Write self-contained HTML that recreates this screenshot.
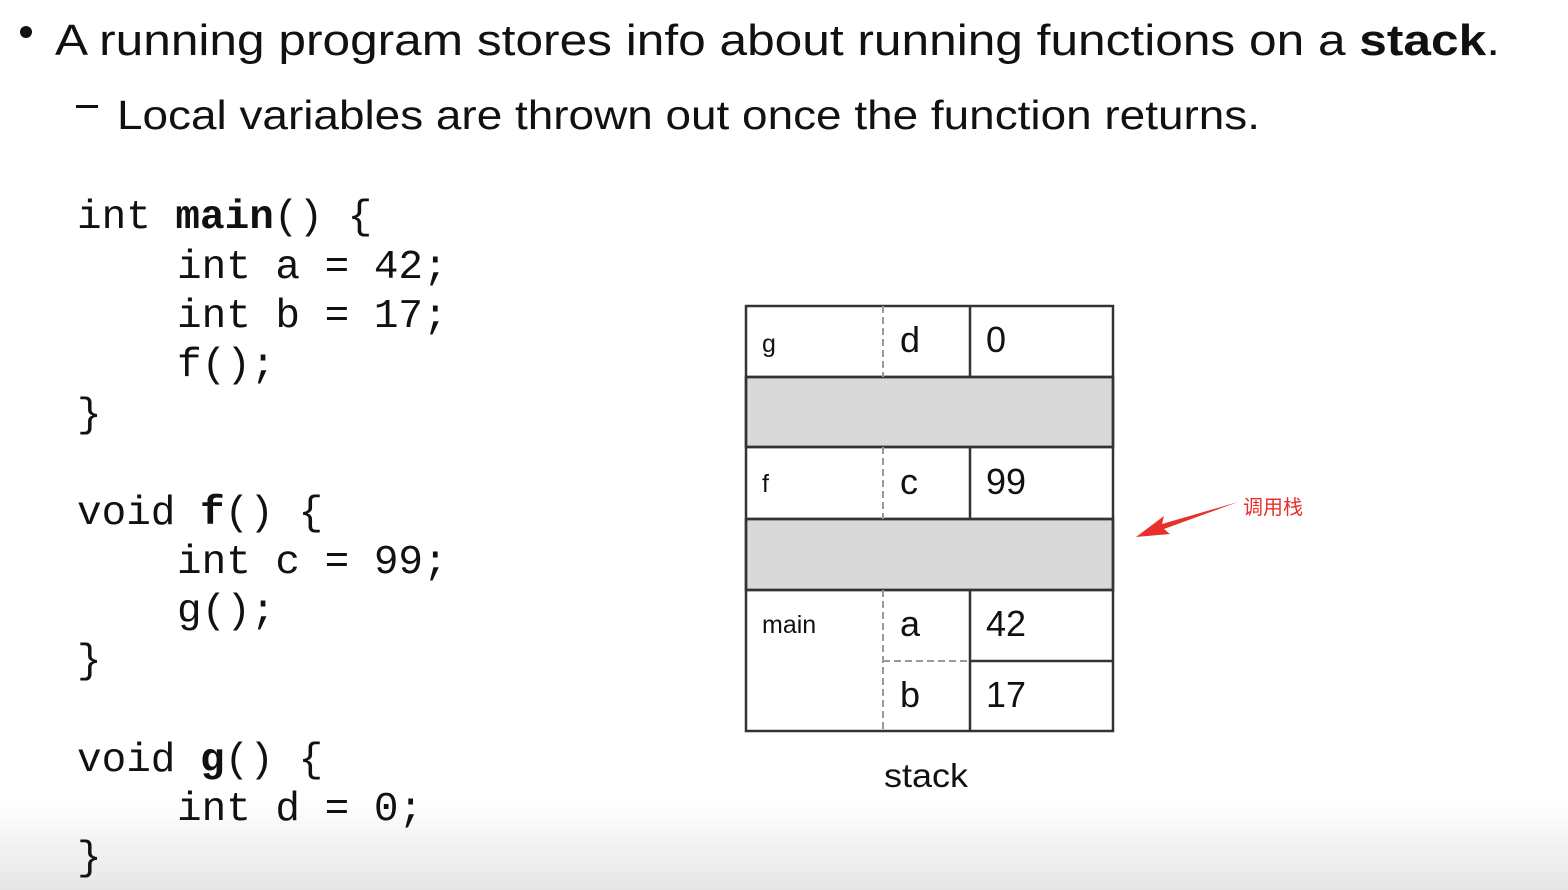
<!DOCTYPE html>
<html><head><meta charset="utf-8"><style>
html,body{margin:0;padding:0;width:1568px;height:890px;overflow:hidden;background:#fff}
</style></head><body>
<svg width="1568" height="890" xmlns="http://www.w3.org/2000/svg">
<defs><linearGradient id="bg" x1="0" y1="0" x2="0" y2="1">
<stop offset="0" stop-color="#ffffff"/><stop offset="1" stop-color="#e6e6e6"/></linearGradient></defs>
<rect x="0" y="800" width="1568" height="90" fill="url(#bg)"/>
<g font-family="Liberation Sans, sans-serif" fill="#111">
<circle cx="26" cy="32" r="6"/>
<text x="55" y="55" font-size="44" textLength="1445" lengthAdjust="spacingAndGlyphs">A running program stores info about running functions on a <tspan font-weight="bold">stack</tspan>.</text>
<rect x="76" y="105" width="22" height="3"/>
<text x="117" y="129" font-size="41" textLength="1143" lengthAdjust="spacingAndGlyphs">Local variables are thrown out once the function returns.</text>
</g>
<g font-family="Liberation Mono, monospace" font-size="41" fill="#111">
<text x="77" y="228">int <tspan font-weight="bold">main</tspan>() {</text>
<text x="177" y="278">int a = 42;</text>
<text x="177" y="327">int b = 17;</text>
<text x="177" y="376">f();</text>
<text x="77" y="426">}</text>
<text x="77" y="524">void <tspan font-weight="bold">f</tspan>() {</text>
<text x="177" y="573">int c = 99;</text>
<text x="177" y="622">g();</text>
<text x="77" y="672">}</text>
<text x="77" y="771">void <tspan font-weight="bold">g</tspan>() {</text>
<text x="177" y="820">int d = 0;</text>
<text x="77" y="869">}</text>
</g>
<g stroke="#333" stroke-width="2.5" fill="none">
<rect x="746" y="377" width="367" height="70" fill="#d9d9d9"/>
<rect x="746" y="519" width="367" height="71" fill="#d9d9d9"/>
<rect x="746" y="306" width="367" height="425"/>
<line x1="746" y1="377" x2="1113" y2="377"/>
<line x1="746" y1="447" x2="1113" y2="447"/>
<line x1="746" y1="519" x2="1113" y2="519"/>
<line x1="746" y1="590" x2="1113" y2="590"/>
<line x1="970" y1="661" x2="1113" y2="661"/>
<line x1="970" y1="306" x2="970" y2="377"/>
<line x1="970" y1="447" x2="970" y2="519"/>
<line x1="970" y1="590" x2="970" y2="731"/>
</g>
<g stroke="#999" stroke-width="2" stroke-dasharray="7,4">
<line x1="883" y1="306" x2="883" y2="377"/>
<line x1="883" y1="447" x2="883" y2="519"/>
<line x1="883" y1="590" x2="883" y2="731"/>
<line x1="883" y1="661" x2="970" y2="661"/>
</g>
<g font-family="Liberation Sans, sans-serif" fill="#111">
<text x="762" y="352" font-size="25">g</text>
<text x="762" y="492" font-size="25">f</text>
<text x="762" y="633" font-size="25">main</text>
<text x="900" y="352" font-size="36">d</text>
<text x="900" y="494" font-size="36">c</text>
<text x="900" y="636" font-size="36">a</text>
<text x="900" y="707" font-size="36">b</text>
<text x="986" y="352" font-size="36">0</text>
<text x="986" y="494" font-size="36">99</text>
<text x="986" y="636" font-size="36">42</text>
<text x="986" y="707" font-size="36">17</text>
<text x="884" y="787" font-size="33" textLength="84" lengthAdjust="spacingAndGlyphs">stack</text>
</g>
<path d="M1238,502 L1162,524 L1164,516 L1136,537 L1170,534 L1164,529 Z" fill="#e8302c"/>
<text x="1243" y="514" font-family="Liberation Sans, Noto Sans CJK SC, sans-serif" font-size="20" fill="#e8302c">调用栈</text>
</svg>
</body></html>
